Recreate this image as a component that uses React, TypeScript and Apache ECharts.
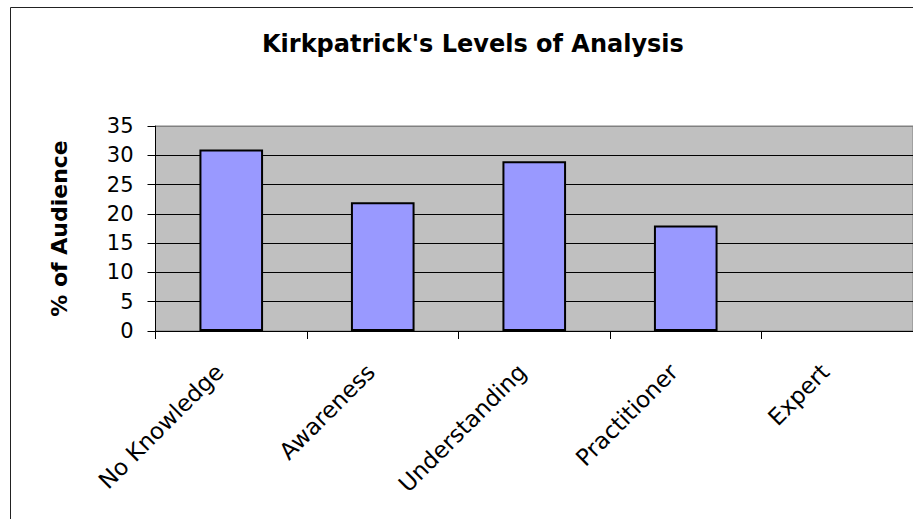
import React, { useEffect, useRef } from "react";
import * as echarts from "echarts";

const titleText = "Kirkpatrick's Levels of Analysis";
const yAxisName = "% of Audience";
const categories = ["No Knowledge", "Awareness", "Understanding", "Practitioner", "Expert"];
const audiencePercent = [31, 22, 29, 18, 0];
const yMin = 0;
const yMax = 35;
const yInterval = 5;

const FONT = "DejaVu Sans";

export default function App() {
  const ref = useRef<HTMLDivElement>(null);
  useEffect(() => {
    if (!ref.current) return;
    const chart = echarts.init(ref.current, undefined, { renderer: "svg" });
    chart.setOption({
      animation: false,
      backgroundColor: "#ffffff",
      textStyle: { fontFamily: FONT },
      title: {
        text: titleText,
        left: 257,
        top: 27,
        textStyle: { fontFamily: FONT, fontSize: 24, fontWeight: "bold", color: "#000" },
      },
      graphic: [
        {
          type: "rect",
          shape: { x: 10.5, y: 7.5, width: 1200, height: 800 },
          style: { fill: "none", stroke: "#222", lineWidth: 1 },
          silent: true,
          z: 10,
        },
      ],
      grid: {
        left: 155.5,
        top: 126,
        right: 0,
        bottom: 188,
        show: true,
        backgroundColor: "#C0C0C0",
        borderColor: "#808080",
        borderWidth: 1,
      },
      xAxis: {
        type: "category",
        data: categories,
        boundaryGap: true,
        axisLine: { show: true, lineStyle: { color: "#000", width: 1 } },
        axisTick: { show: true, alignWithLabel: false, length: 8, lineStyle: { color: "#000" } },
        axisLabel: {
          rotate: 45,
          interval: 0,
          margin: 25,
          padding: [0, 17, 0, 0],
          fontFamily: FONT,
          fontSize: 23,
          color: "#000",
        },
        splitLine: { show: false },
      },
      yAxis: {
        type: "value",
        min: yMin,
        max: yMax,
        interval: yInterval,
        name: yAxisName,
        nameLocation: "middle",
        nameRotate: 90,
        nameGap: 85,
        nameTextStyle: { fontFamily: FONT, fontSize: 22, fontWeight: "bold", color: "#000" },
        axisLine: { show: true, lineStyle: { color: "#000", width: 1 } },
        axisTick: { show: true, length: 8, lineStyle: { color: "#000" } },
        axisLabel: { margin: 22, fontFamily: FONT, fontSize: 21, color: "#000" },
        splitLine: {
          show: true,
          lineStyle: {
            color: ["#000", "#000", "#000", "#000", "#000", "#000", "#000", "#808080"],
            width: 1,
          },
        },
      },
      series: [
        {
          type: "bar",
          data: audiencePercent.map((v) =>
            v === 0 ? { value: v, itemStyle: { borderWidth: 0 } } : v
          ),
          barWidth: "42%",
          itemStyle: { color: "#9999FF", borderColor: "#000", borderWidth: 2 },
        },
      ],
    });
    return () => chart.dispose();
  }, []);
  return (
    <div
      ref={ref}
      style={{ position: "fixed", left: 0, top: 0, width: 913, height: 519 }}
    />
  );
}
